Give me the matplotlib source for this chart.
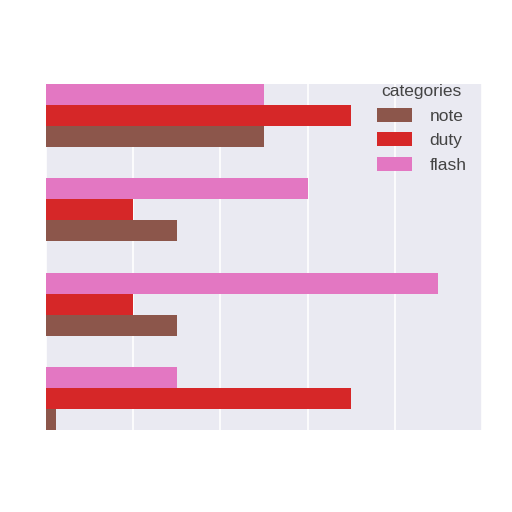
import numpy as np
import matplotlib
matplotlib.use("Agg")
import matplotlib.pyplot as plt

# values (one grid step = 1 unit)
groups = [0, 1, 2, 3]
series = ["note", "duty", "flash"]
note = [2.5, 1.5, 1.5, 0.12]
duty = [3.5, 1.0, 1.0, 3.5]
flash = [2.5, 3.0, 4.5, 1.5]
colors = {"note": "#8c564b", "duty": "#d62728", "flash": "#e377c2"}

plt.rcParams['font.family'] = ['Liberation Sans', 'DejaVu Sans']

fig = plt.figure(figsize=(5.12, 5.12), dpi=100)
ax = fig.add_axes([46 / 512, 1 - 430 / 512, 436 / 512, 346 / 512])
ax.set_facecolor("#EAEAF2")

h = 0.223
y = np.array(groups, dtype=float)
values = {"note": note, "duty": duty, "flash": flash}
offsets = {"flash": -h, "duty": 0.0, "note": h}
for name in series:
    ax.barh(y + offsets[name], values[name], height=h, color=colors[name],
            label=name, zorder=2)

ax.set_xlim(0, 5)
ax.set_ylim(3 + 1.5 * h, -1.5 * h)
ax.set_xticks([0, 1, 2, 3, 4, 5])
ax.set_yticks([])
ax.tick_params(axis="x", length=0, labelbottom=False)
ax.grid(axis="x", color="white", linewidth=1.2, zorder=1)
for s in ax.spines.values():
    s.set_visible(False)

leg = ax.legend(title="categories", loc="upper right", bbox_to_anchor=(1.0, 1.045),
                frameon=False, fontsize=12.5, title_fontsize=12.5, labelcolor="#444444",
                handlelength=2.0, handleheight=0.85, labelspacing=0.5, handletextpad=1.0)
leg.get_title().set_color("#444444")

fig.savefig("out.png", dpi=100)
